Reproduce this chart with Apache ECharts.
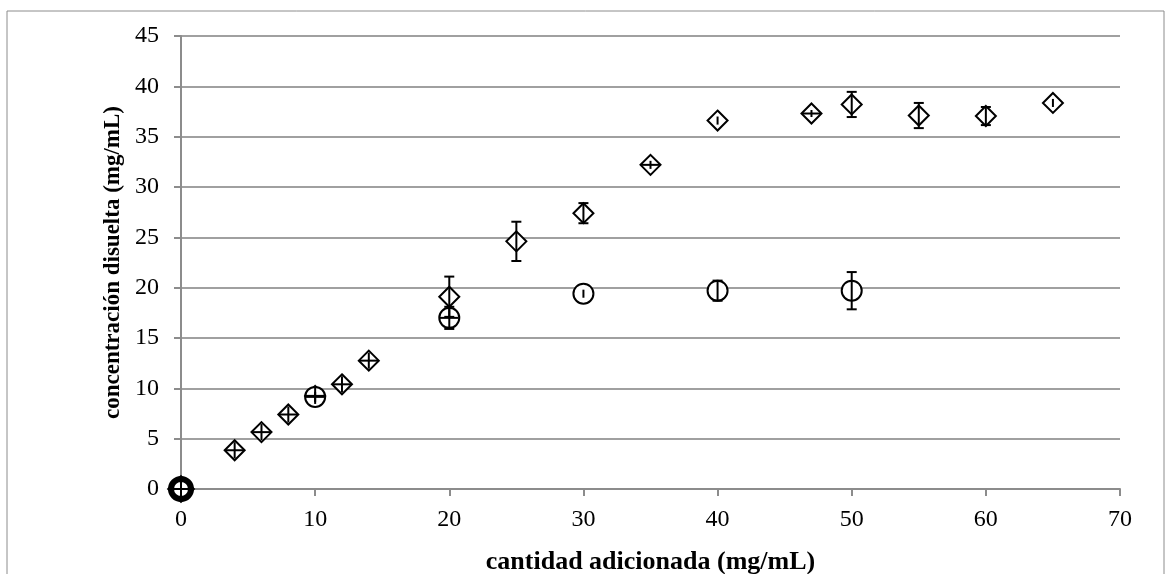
<!DOCTYPE html>
<html>
<head>
<meta charset="utf-8">
<script src="https://cdn.jsdelivr.net/npm/echarts@6/dist/echarts.min.js"></script>
<style>
  html, body { margin: 0; padding: 0; background: #fff; }
  #chart { width: 1167px; height: 574px; }
</style>
</head>
<body>
<div id="chart"></div>
<script>
// serie 1 (rombos)
const diamondX = [0, 4, 6, 8, 10, 12, 14, 20, 25, 30, 35, 40, 47, 50, 55, 60, 65]
const diamondY = [0, 3.85, 5.65, 7.4, 9.25, 10.4, 12.75, 19.1, 24.6, 27.4, 32.2, 36.6, 37.3, 38.2, 37.1, 37.05, 38.35]
const diamondErr = [0.8, 0.8, 0.8, 0.8, 0.8, 0.8, 0.8, 2.0, 1.95, 1.0, 0.4, 0.4, 0.35, 1.25, 1.25, 0.9, 0.4]
const diamondXErr = [0.7, 0.7, 0.7, 0.7, 0.7, 0.7, 0.7, 0, 0, 0, 0.7, 0, 0.7, 0, 0, 0, 0]

// serie 2 (circulos)
const circleX = [0, 10, 20, 30, 40, 50]
const circleY = [0, 9.15, 17.0, 19.4, 19.7, 19.7]
const circleErr = [0.8, 0.5, 1.1, 0.4, 1.0, 1.85]
const circleXErr = [0.7, 0.7, 0.7, 0, 0, 0]

const xTicks = [0, 10, 20, 30, 40, 50, 60, 70]
const yTicks = [0, 5, 10, 15, 20, 25, 30, 35, 40, 45]

const font = 'Liberation Serif'

function points(xs, ys) {
  return xs.map((x, i) => {
    const p = { value: [x, ys[i]] }
    // el punto del origen sale como una mancha negra
    if (x === 0 && ys[i] === 0) p.itemStyle = { borderWidth: 6 }
    return p
  })
}

function errData(xs, ys, es, xes) {
  return xs.map((x, i) => [x, ys[i], es[i], xes[i]])
}

function renderErr(params, api) {
  const x = api.value(0)
  const y = api.value(1)
  const e = api.value(2)
  const xe = api.value(3)
  const c = api.coord([x, y])
  const top = api.coord([x, y + e])
  const bot = api.coord([x, y - e])
  const cap = 5
  const style = { stroke: '#000', lineWidth: 2 }
  const children = [
    { type: 'line', shape: { x1: top[0], y1: top[1], x2: bot[0], y2: bot[1] }, style: style }
  ]
  // tapas solo si la barra sale del simbolo
  if (c[1] - top[1] > 8.5) {
    children.push({ type: 'line', shape: { x1: top[0] - cap, y1: top[1], x2: top[0] + cap, y2: top[1] }, style: style })
    children.push({ type: 'line', shape: { x1: bot[0] - cap, y1: bot[1], x2: bot[0] + cap, y2: bot[1] }, style: style })
  }
  if (xe > 0) {
    const l = api.coord([x - xe, y])
    const r = api.coord([x + xe, y])
    children.push({ type: 'line', shape: { x1: l[0], y1: l[1], x2: r[0], y2: r[1] }, style: style })
  }
  return { type: 'group', children: children }
}

const chart = echarts.init(document.getElementById('chart'))

chart.setOption({
  animation: false,
  graphic: [
    {
      type: 'rect',
      shape: { x: 7, y: 11, width: 1157, height: 620 },
      style: { fill: 'none', stroke: '#8c8c8c', lineWidth: 1 },
      silent: true
    }
  ],
  grid: {
    left: 181,
    right: 47,
    top: 36,
    bottom: 85,
    containLabel: false,
    outerBoundsMode: 'none'
  },
  xAxis: {
    type: 'value',
    min: xTicks[0],
    max: xTicks[xTicks.length - 1],
    interval: 10,
    name: 'cantidad adicionada (mg/mL)',
    nameLocation: 'middle',
    nameGap: 60,
    nameTextStyle: { fontFamily: font, fontSize: 26, fontWeight: 'bold', color: '#000' },
    axisLine: { show: true, onZero: false, lineStyle: { color: '#8c8c8c', width: 2 } },
    axisTick: { show: true, length: 7, lineStyle: { color: '#8c8c8c', width: 2 } },
    axisLabel: { fontFamily: font, fontSize: 24, color: '#000', margin: 19 },
    splitLine: { show: false }
  },
  yAxis: {
    type: 'value',
    min: yTicks[0],
    max: yTicks[yTicks.length - 1],
    interval: 5,
    name: 'concentración disuelta (mg/mL)',
    nameLocation: 'middle',
    nameGap: 48,
    nameTextStyle: { fontFamily: font, fontSize: 23, fontWeight: 'bold', color: '#000' },
    axisLine: { show: true, lineStyle: { color: '#8c8c8c', width: 2 } },
    axisTick: { show: true, length: 7, lineStyle: { color: '#8c8c8c', width: 2 } },
    axisLabel: { fontFamily: font, fontSize: 24, color: '#000', margin: 22 },
    splitLine: { show: true, lineStyle: { color: '#a0a0a0', width: 2 } }
  },
  series: [
    {
      name: 'rombos',
      type: 'scatter',
      symbol: 'diamond',
      symbolSize: 20,
      clip: false,
      itemStyle: { color: '#fff', borderColor: '#000', borderWidth: 2, opacity: 1 },
      data: points(diamondX, diamondY),
      z: 3
    },
    {
      name: 'circulos',
      type: 'scatter',
      symbol: 'circle',
      symbolSize: 20,
      clip: false,
      itemStyle: { color: '#fff', borderColor: '#000', borderWidth: 2, opacity: 1 },
      data: points(circleX, circleY),
      z: 4
    },
    {
      type: 'custom',
      renderItem: renderErr,
      clip: false,
      data: errData(diamondX, diamondY, diamondErr, diamondXErr),
      z: 5
    },
    {
      type: 'custom',
      renderItem: renderErr,
      clip: false,
      data: errData(circleX, circleY, circleErr, circleXErr),
      z: 5
    }
  ]
})
</script>
</body>
</html>
